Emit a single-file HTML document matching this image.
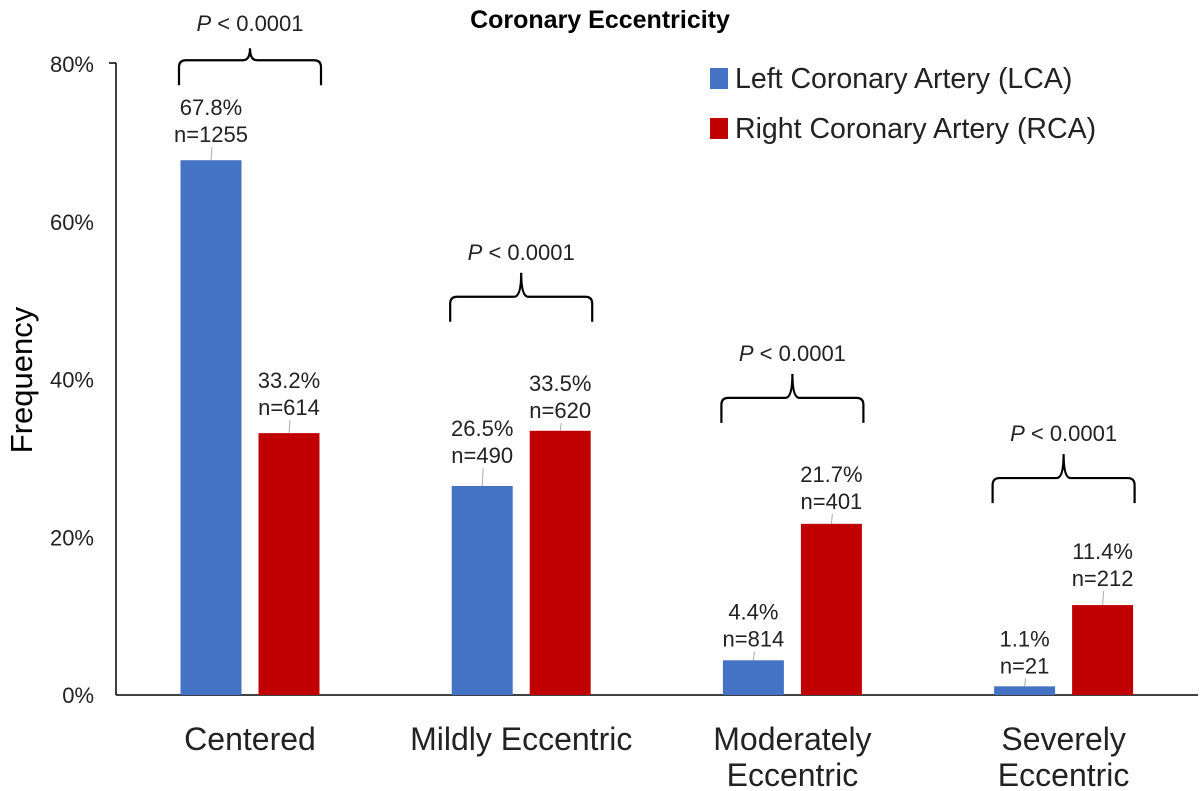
<!DOCTYPE html>
<html><head><meta charset="utf-8"><style>
body{margin:0;background:#fff}
svg{display:block;font-family:"Liberation Sans",Arial,sans-serif}
</style></head><body>
<svg id="chart" width="1200" height="791" viewBox="0 0 1200 791">
<text x="600" y="28" text-anchor="middle" font-size="25" font-weight="bold" fill="#000">Coronary Eccentricity</text>
<text transform="translate(32,380) rotate(-90)" text-anchor="middle" font-size="31" fill="#000">Frequency</text>
<g id="legend">
<rect x="710" y="68" width="18" height="21" fill="#4472c4"/>
<text x="735" y="88" font-size="28.5" fill="#222">Left Coronary Artery (LCA)</text>
<rect x="710" y="118" width="18" height="21" fill="#c00000"/>
<text x="735" y="138" font-size="28.5" fill="#222">Right Coronary Artery (RCA)</text>
</g>
<g id="plot"></g>
</svg>
<script>
const categories = [["Centered"],["Mildly Eccentric"],["Moderately","Eccentric"],["Severely","Eccentric"]];
const lcaValues = [67.8, 26.5, 4.4, 1.1];
const rcaValues = [33.2, 33.5, 21.7, 11.4];
const lcaCounts = ["n=1255","n=490","n=814","n=21"];
const rcaCounts = ["n=614","n=620","n=401","n=212"];
const pLabels = ["< 0.0001","< 0.0001","< 0.0001","< 0.0001"];
const yTicks = [0, 20, 40, 60, 80];

// label layout offsets (px above bar top, styling only)
const lcaGap = [26, 31, 22, 21];
const rcaGap = [26, 21, 23, 27];
const bracketGap = [75, 109, 101, 102];

const NS = "http://www.w3.org/2000/svg";
const g = document.getElementById("plot");
const x0 = 116, x1 = 1198, yBase = 695, yTop = 64;
const yMax = 80;
const y = v => yBase - v / yMax * (yBase - yTop);
const catCenter = i => 250 + i * 271.2;
const barW = 61;
function mk(tag, attrs, parent) {
  const e = document.createElementNS(NS, tag);
  for (const k in attrs) e.setAttribute(k, attrs[k]);
  (parent || g).appendChild(e);
  return e;
}
let e = mk("line", {x1: x0, y1: y(yMax) - 1, x2: x0, y2: yBase, stroke: "#000", "stroke-width": 1.5});


e = mk("line", {x1: x0 - 7, y1: y(yMax) - 1, x2: x0, y2: y(yMax) - 1, stroke: "#000", "stroke-width": 1.5});


e = mk("line", {x1: x0, y1: yBase, x2: x1, y2: yBase, stroke: "#000", "stroke-width": 1.5});


yTicks.forEach(t => {
  const tl = mk("text", {x: x0 - 22, y: y(t) + 8, "text-anchor": "end", "font-size": 22, fill: "#222"});
  tl.textContent = t + "%";
  
  
});
function valueLabel(cx, v, cnt, gap, name) {
  const top = y(v);
  const ld = mk("line", {x1: cx + 1, y1: top - gap + 13, x2: cx, y2: top, stroke: "#aaa", "stroke-width": 1});
  
  
  const t1 = mk("text", {x: cx, y: top - gap - 27 + 8, "text-anchor": "middle", "font-size": 22, fill: "#222"});
  t1.textContent = v.toFixed(1) + "%";
  
  
  const t2 = mk("text", {x: cx, y: top - gap + 8, "text-anchor": "middle", "font-size": 22, fill: "#222"});
  t2.textContent = cnt;
  
  
}
categories.forEach((c, i) => {
  const cx = catCenter(i);
  const lcx = cx - 39, rcx = cx + 39;
  const b1 = mk("rect", {x: lcx - barW / 2, y: y(lcaValues[i]), width: barW, height: yBase - y(lcaValues[i]), fill: "#4472c4"});
  
  
  const b2 = mk("rect", {x: rcx - barW / 2, y: y(rcaValues[i]), width: barW, height: yBase - y(rcaValues[i]), fill: "#c00000"});
  
  
  valueLabel(lcx, lcaValues[i], lcaCounts[i], lcaGap[i], 'lca-' + i);
  valueLabel(rcx, rcaValues[i], rcaCounts[i], rcaGap[i], 'rca-' + i);
  const hi = Math.min(y(lcaValues[i]), y(rcaValues[i]));
  const bBot = hi - bracketGap[i];
  const bx1 = lcx - 32, bx2 = rcx + 32, h = bBot - 25;
  const pk = i === 0 ? 12 : 24;
  const br = mk("path", {d: `M${bx1},${bBot} L${bx1},${h+7} Q${bx1},${h} ${bx1+7},${h} L${cx-7},${h} Q${cx},${h} ${cx},${h-pk} Q${cx},${h} ${cx+7},${h} L${bx2-7},${h} Q${bx2},${h} ${bx2},${h+7} L${bx2},${bBot}`, fill: "none", stroke: "#000", "stroke-width": 2.2});
  
  
  const pt = mk("text", {x: cx, y: h - (i === 0 ? 29 : 37), "text-anchor": "middle", "font-size": 22, fill: "#222"});
  pt.innerHTML = '<tspan font-style="italic">P</tspan> ' + pLabels[i];
  
  
  c.forEach((ln, j) => {
    const ct = mk("text", {x: cx, y: 750 + j * 36, "text-anchor": "middle", "font-size": 32, fill: "#222"});
    ct.textContent = ln;
    
    
  });
});
</script>
</body></html>
